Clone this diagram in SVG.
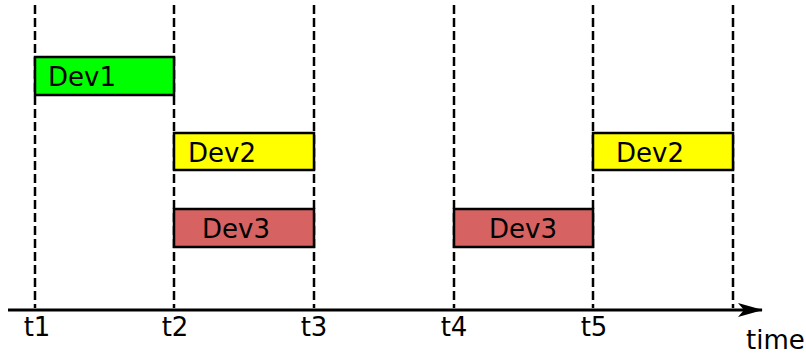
<svg xmlns="http://www.w3.org/2000/svg" width="806" height="354" viewBox="0 0 806 354">
  <style>
    .guide { stroke: #000; stroke-width: 2.5; stroke-dasharray: 9 4; fill: none; }
    .axis { stroke: #000; stroke-width: 3; fill: none; }
    .box { stroke: #000; stroke-width: 2.5; }
    .lbl { font-family: "DejaVu Sans", sans-serif; font-size: 26px; fill: #000; }
    .tick { font-family: "DejaVu Sans", sans-serif; font-size: 26px; fill: #000; text-anchor: middle; }
  </style>
  <defs>
    <marker id="arrow" markerWidth="25" markerHeight="14" refX="24" refY="7" orient="auto" markerUnits="userSpaceOnUse">
      <path d="M0,0 L25,7 L0,14 L6,7 Z" fill="#000"/>
    </marker>
  </defs>
  <rect width="806" height="354" fill="#fff"/>

  <g id="connectors">
    <line class="guide" x1="35" y1="5" x2="35" y2="308"/>
    <line class="guide" x1="174" y1="5" x2="174" y2="308"/>
    <line class="guide" x1="314" y1="5" x2="314" y2="308"/>
    <line class="guide" x1="454" y1="5" x2="454" y2="308"/>
    <line class="guide" x1="593" y1="5" x2="593" y2="308"/>
    <line class="guide" x1="733" y1="5" x2="733" y2="308"/>
    <line class="axis" x1="8" y1="310" x2="762" y2="310" marker-end="url(#arrow)"/>
  </g>

  <g id="dev1">
    <rect class="box" x="35" y="57" width="139" height="38" fill="#00ff00"/>
    <text class="lbl" x="48" y="86">Dev1</text>
  </g>
  <g id="dev2-a">
    <rect class="box" x="174" y="133" width="140" height="37" fill="#ffff00"/>
    <text class="lbl" x="188" y="162">Dev2</text>
  </g>
  <g id="dev3-a">
    <rect class="box" x="174" y="209" width="140" height="38" fill="#d66262"/>
    <text class="lbl" x="202" y="238">Dev3</text>
  </g>
  <g id="dev3-b">
    <rect class="box" x="454" y="209" width="139" height="38" fill="#d66262"/>
    <text class="lbl" x="489" y="238">Dev3</text>
  </g>
  <g id="dev2-b">
    <rect class="box" x="593" y="133" width="140" height="37" fill="#ffff00"/>
    <text class="lbl" x="616" y="162">Dev2</text>
  </g>

  <g id="ticks">
    <text class="tick" x="37" y="336">t1</text>
    <text class="tick" x="175" y="336">t2</text>
    <text class="tick" x="314" y="336">t3</text>
    <text class="tick" x="454" y="336">t4</text>
    <text class="tick" x="594" y="336">t5</text>
    <text class="lbl" x="746" y="349">time</text>
  </g>
</svg>
